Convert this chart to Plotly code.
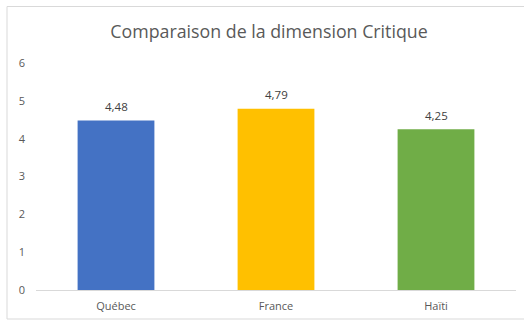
import plotly.graph_objects as go

categories = ["Québec", "France", "Haïti"]
scores = [4.48, 4.79, 4.25]
bar_colors = ["#4472C4", "#FFC000", "#70AD47"]
y_ticks = [0, 1, 2, 3, 4, 5, 6]

W, H = 524, 320
ML, MR, MT, MB = 36, 8, 63, 30
PW = W - ML - MR
PH = H - MT - MB
FONT = "Open Sans, Liberation Sans, sans-serif"

fig = go.Figure(
    go.Bar(
        x=categories,
        y=scores,
        marker=dict(color=bar_colors, line=dict(width=0)),
        width=0.48,
        hoverinfo="skip",
    )
)

# value labels above each bar, decimal comma
for cat, val in zip(categories, scores):
    fig.add_annotation(
        x=cat, y=val, xref="x", yref="y",
        text=f"{val:.2f}".replace(".", ","),
        showarrow=False, yanchor="middle", yshift=14,
        font=dict(family=FONT, size=11.5, color="#404040"),
    )

# chart frame (light grey border)
fig.add_shape(
    type="rect", xref="paper", yref="paper",
    x0=(7 - ML) / PW, x1=(530 - ML) / PW,
    y0=(H - MB - 319) / PH, y1=(H - MB - 6.5) / PH,
    line=dict(color="#D9D9D9", width=1), fillcolor="rgba(0,0,0,0)", layer="below",
)

fig.update_layout(
    width=W, height=H,
    margin=dict(l=ML, r=MR, t=MT, b=MB),
    paper_bgcolor="white", plot_bgcolor="white",
    separators=", ",
    showlegend=False,
    title=dict(
        text="Comparaison de la dimension Critique",
        x=269 / W, xanchor="center", xref="container",
        y=1 - 32 / H, yanchor="middle",
        font=dict(family=FONT, size=17.8, color="#595959"),
    ),
    xaxis=dict(
        showgrid=False, showline=True, linecolor="#D9D9D9", linewidth=1,
        ticks="", ticklabelstandoff=6,
        tickfont=dict(family=FONT, size=11, color="#595959"),
        fixedrange=True,
    ),
    yaxis=dict(
        range=[0, 6], tickvals=y_ticks, showgrid=False, zeroline=False,
        showline=False, ticks="", ticklabelstandoff=10,
        tickfont=dict(family=FONT, size=11, color="#595959"),
        fixedrange=True,
    ),
)

fig.write_html("out.html")
